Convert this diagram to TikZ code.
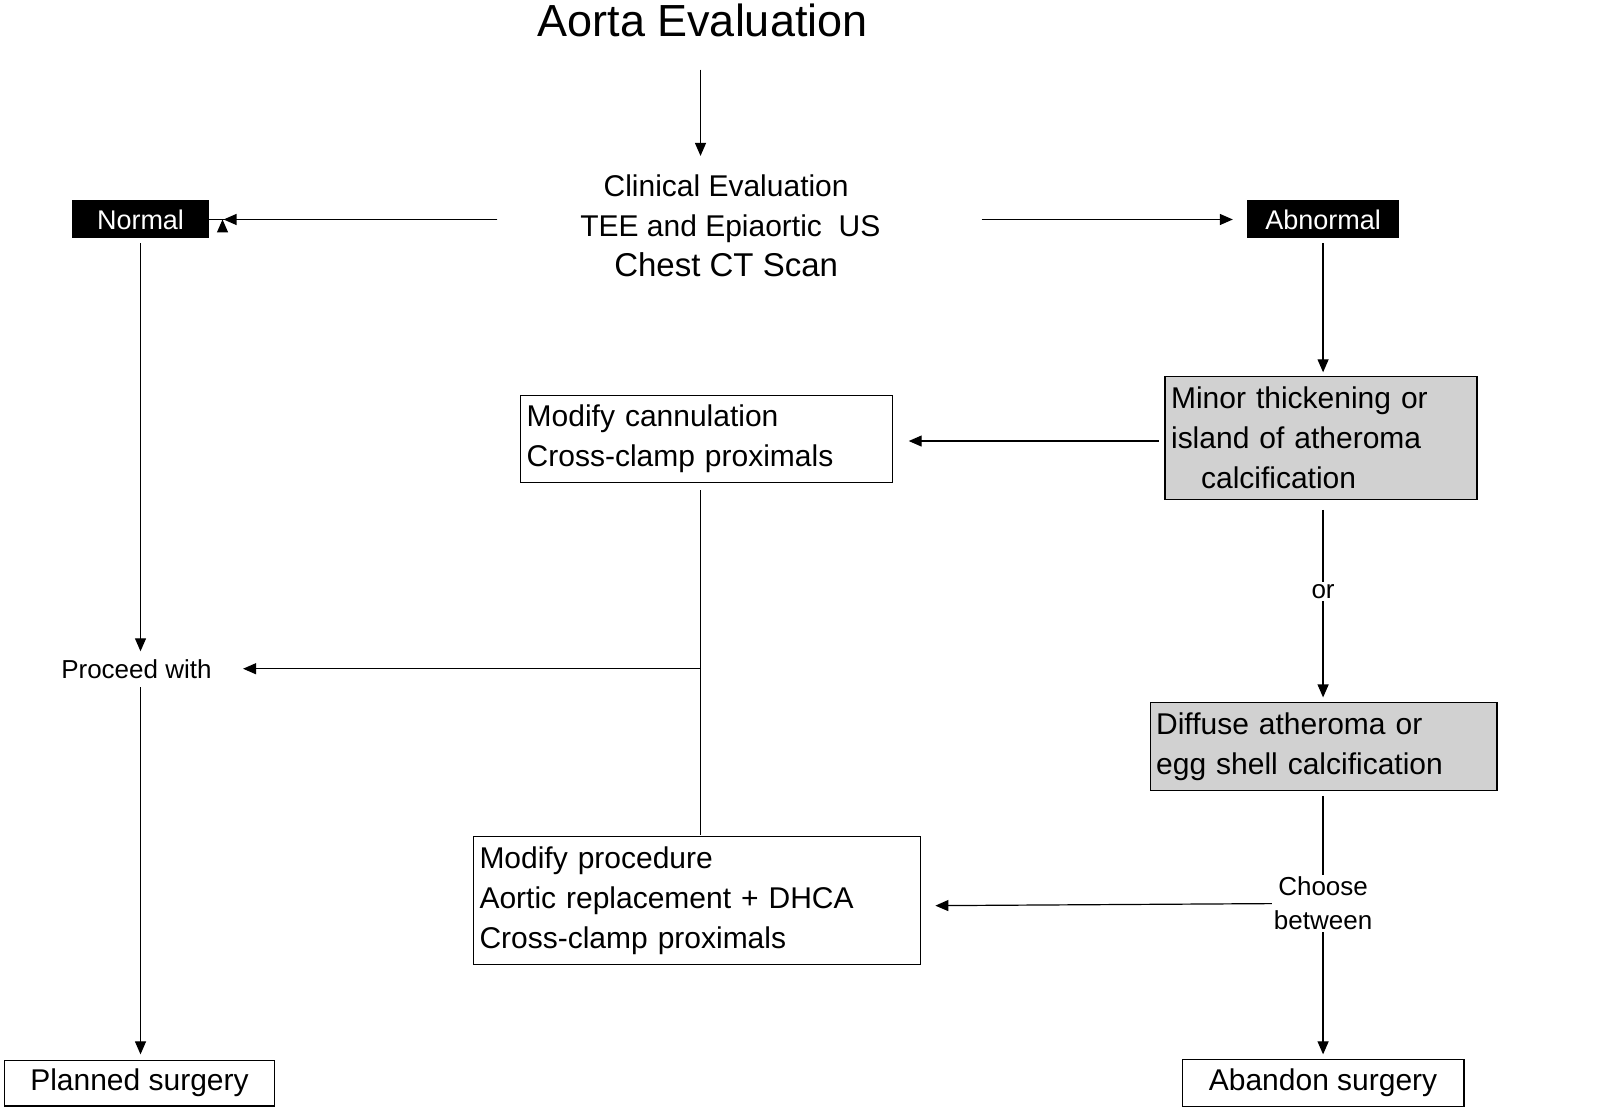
\documentclass[tikz,border=0pt]{standalone}
\usepackage{fontspec}
\setmainfont{Liberation Sans}
\usetikzlibrary{arrows.meta}
\begin{document}
\begin{tikzpicture}[x=1.026pt,y=-1.026pt,
  arr/.style={-{Triangle[length=13pt,width=11pt]},line width=1.2pt},
  ln/.style={line width=1.2pt},
  bx/.style={draw,line width=1.2pt,inner sep=0pt,font=\fontsize{30}{40}\selectfont,align=left},
  blk/.style={fill=black,text=white,inner sep=0pt,font=\fontsize{27}{32}\selectfont},
  lbl/.style={inner sep=2pt,font=\fontsize{26}{34}\selectfont,align=center}]
\useasboundingbox (0,0) rectangle (1560,1083);
\node[font=\fontsize{45}{50}\selectfont] (title) at (685,20) {Aorta Evaluation};
\coordinate (t1) at (683,68);
\node[inner sep=0pt,font=\fontsize{30}{40}\selectfont,align=center,minimum width=470pt,minimum height=130pt] (clin) at (708,220)
  {Clinical Evaluation\\ \ TEE and Epiaortic\ \ US\\ \fontsize{33}{40}\selectfont Chest CT Scan};
\node[blk,minimum width=137pt,minimum height=38pt] (nor) at (137,214) {Normal};
\node[blk,minimum width=152pt,minimum height=38pt] (abn) at (1290,214) {Abnormal};
\coordinate (c1) at (485,214); \coordinate (c2) at (957,214);
\draw[arr] (t1) -- (683,152);
\draw[arr] (c1) -- (nor.east) ++(13,0);
\draw[arr] (c1) -- (218,214);
\draw[arr] (c2) -- (1202,214);
\node[lbl] (pro) at (133,652) {Proceed with};
\draw[arr] (137,237) -- (137,635);
\draw[arr] (137,670) -- (137,1028);
\node[bx,minimum width=270pt,minimum height=46pt,align=center] (plan) at (136,1056) {Planned surgery};
\node[bx,fill=black!18,minimum width=312pt,minimum height=123pt,text width=300pt] (min) at (1288,427)
  {Minor thickening or\\island of atheroma\\\ \ \ calcification};
\draw[arr] (1290,237) -- (1290,363);
\node[bx,minimum width=372pt,minimum height=87pt,text width=360pt] (mc) at (689,428)
  {Modify cannulation\\Cross-clamp proximals};
\draw[arr] (1130,430) -- (886,430);
\node[bx,minimum width=447pt,minimum height=128pt,text width=435pt] (mp) at (679.5,878)
  {Modify procedure\\Aortic replacement + DHCA\\Cross-clamp proximals};
\draw[ln] (683,478) -- (683,814);
\draw[arr] (683,652) -- (237,652);
\node[lbl] (or) at (1290,577) {or};
\draw[ln] (1290,497) -- (or.north);
\draw[arr] (or.south) -- (1290,680);
\node[bx,fill=black!18,minimum width=347pt,minimum height=88pt,text width=335pt] (dif) at (1290.5,728)
  {Diffuse atheroma or\\egg shell calcification};
\node[lbl] (cho) at (1290,881) {Choose\\between};
\draw[ln] (1290,776) -- (cho.north);
\draw[arr] (cho.south) -- (1290,1028);
\draw[arr] (cho.west) -- (912,883);
\node[bx,minimum width=282pt,minimum height=47pt,align=center] (aba) at (1290,1056) {Abandon surgery};
\end{tikzpicture}
\end{document}
